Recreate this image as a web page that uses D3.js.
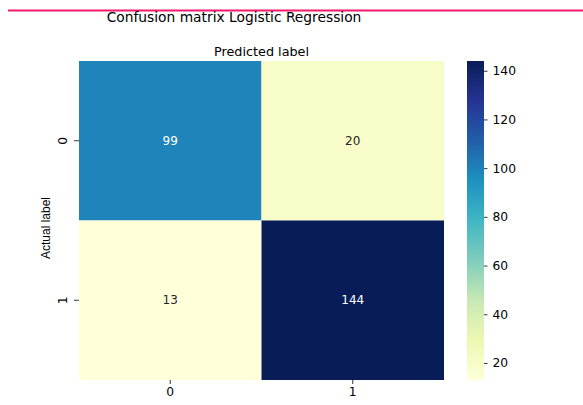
<!DOCTYPE html>
<html>
<head>
<meta charset="utf-8">
<script src="https://cdn.jsdelivr.net/npm/d3@7"></script>
<style>
  body { margin: 0; background: #fff; }
  svg { display: block; font-family: "DejaVu Sans", sans-serif; }
</style>
</head>
<body>
<div id="chart"></div>
<script>
// confusion matrix values (rows = actual, cols = predicted)
const actualLabels = ["0", "1"];
const predictedLabels = ["0", "1"];
const matrix = [
  [99, 20],
  [13, 144]
];
const cbarTicks = [20, 40, 60, 80, 100, 120, 140];

const width = 583, height = 405;
const mLeft = 79, mRight = 444, mTop = 61, mBottom = 380;
const tickFont = 12.3;

const svg = d3.select("#chart").append("svg")
  .attr("width", width)
  .attr("height", height);

// pink rule at the top of the cell
svg.append("line")
  .attr("x1", 8).attr("x2", width)
  .attr("y1", 10.5).attr("y2", 10.5)
  .attr("stroke", "#f5196b")
  .attr("stroke-width", 2);

const cells = [];
matrix.forEach((row, i) => row.forEach((v, j) => cells.push({ a: actualLabels[i], p: predictedLabels[j], v: v })));

const allVals = cells.map(d => d.v);
const vmin = d3.min(allVals), vmax = d3.max(allVals);

// matplotlib YlGnBu = linear over the 9 brewer colours
const pal = d3.schemeYlGnBu[9];
const color = d3.scaleLinear()
  .domain(pal.map((c, k) => vmin + (vmax - vmin) * k / (pal.length - 1)))
  .range(pal)
  .interpolate(d3.interpolateRgb);

const x = d3.scaleBand().domain(predictedLabels).range([mLeft, mRight]);
const y = d3.scaleBand().domain(actualLabels).range([mTop, mBottom]);

svg.selectAll("rect.cell")
  .data(cells)
  .join("rect")
  .attr("class", "cell")
  .attr("x", d => x(d.p))
  .attr("y", d => y(d.a))
  .attr("width", x.bandwidth())
  .attr("height", y.bandwidth())
  .attr("fill", d => color(d.v));

svg.selectAll("text.val")
  .data(cells)
  .join("text")
  .attr("class", "val")
  .attr("x", d => x(d.p) + x.bandwidth() / 2)
  .attr("y", d => y(d.a) + y.bandwidth() / 2)
  .attr("text-anchor", "middle")
  .attr("dominant-baseline", "central")
  .attr("font-size", 12)
  .attr("fill", d => (d.v - vmin) / (vmax - vmin) > 0.5 ? "#ffffff" : "#262626")
  .text(d => d.v);

// axes
const xAxis = svg.append("g")
  .attr("transform", `translate(0,${mBottom})`)
  .call(d3.axisBottom(x).tickSize(4).tickPadding(3.5));
xAxis.select(".domain").remove();
xAxis.selectAll("text").attr("font-size", tickFont).attr("fill", "#000").attr("font-family", "DejaVu Sans");
xAxis.selectAll("line").attr("stroke", "#000").attr("stroke-width", 0.8);

const yAxis = svg.append("g")
  .attr("transform", `translate(${mLeft},0)`)
  .call(d3.axisLeft(y).tickSize(5).tickPadding(0));
yAxis.select(".domain").remove();
yAxis.selectAll("line").attr("stroke", "#000").attr("stroke-width", 0.8);
yAxis.selectAll("text")
  .attr("font-size", tickFont).attr("fill", "#000").attr("font-family", "DejaVu Sans")
  .attr("x", 0).attr("dy", null)
  .attr("text-anchor", "middle")
  .attr("transform", "translate(-16,0) rotate(-90)")
  .attr("dominant-baseline", "central");

// labels
svg.append("text")
  .attr("x", (mLeft + mRight) / 2).attr("y", 56)
  .attr("text-anchor", "middle")
  .attr("font-size", 12.8)
  .text("Predicted label");

svg.append("text")
  .attr("transform", "translate(50,228) rotate(-90)")
  .attr("text-anchor", "middle")
  .attr("font-family", "Liberation Sans, Arial, sans-serif")
  .attr("font-size", 12)
  .text("Actual label");

svg.append("text")
  .attr("x", 234).attr("y", 22)
  .attr("text-anchor", "middle")
  .attr("font-size", 13.8)
  .text("Confusion matrix Logistic Regression");

// colorbar
const cbX = 467, cbW = 17;
const cScale = d3.scaleLinear().domain([vmin, vmax]).range([mBottom, mTop]);
const defs = svg.append("defs");
const grad = defs.append("linearGradient")
  .attr("id", "cbgrad")
  .attr("x1", 0).attr("x2", 0).attr("y1", 1).attr("y2", 0);
pal.forEach((c, k) => grad.append("stop")
  .attr("offset", k / (pal.length - 1))
  .attr("stop-color", c));
svg.append("rect")
  .attr("x", cbX).attr("y", mTop)
  .attr("width", cbW).attr("height", mBottom - mTop)
  .attr("fill", "url(#cbgrad)");

const cAxis = svg.append("g")
  .attr("transform", `translate(${cbX + cbW},0)`)
  .call(d3.axisRight(cScale).tickValues(cbarTicks).tickSize(3.5).tickPadding(5));
cAxis.select(".domain").remove();
cAxis.selectAll("line").attr("stroke", "#000").attr("stroke-width", 0.8);
cAxis.selectAll("text").attr("font-size", tickFont).attr("fill", "#000").attr("font-family", "DejaVu Sans");
</script>
</body>
</html>
